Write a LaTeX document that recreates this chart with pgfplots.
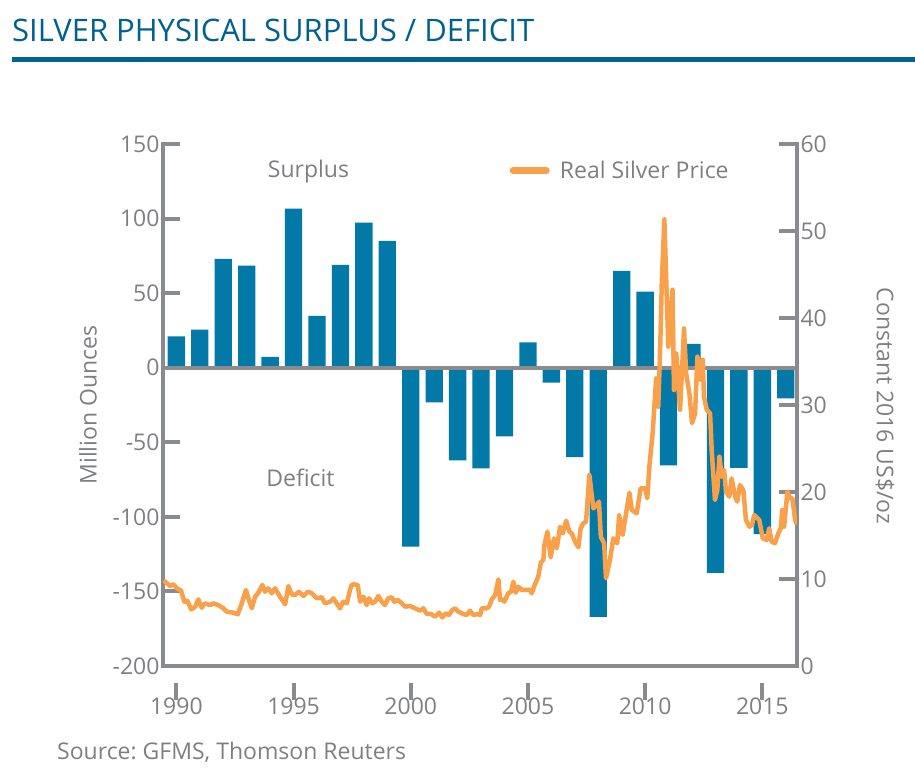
\documentclass[border=0pt]{standalone}
\usepackage{pgfplots}
\pgfplotsset{compat=1.18}
\usepackage{fontspec}
\setmainfont{Open Sans}
\frenchspacing
\definecolor{barblue}{HTML}{0379A7}
\definecolor{lineorange}{HTML}{F9A04A}
\definecolor{axisgray}{HTML}{8A8B8E}
\definecolor{labelgray}{HTML}{7E7F83}
\definecolor{titleblue}{HTML}{00618F}
\definecolor{ruleblue}{HTML}{006391}
\newcommand{\lbl}{\fontsize{23bp}{27bp}\selectfont}

\pgfplotstableread{
year value
1990 21
1991 25.5
1992 73
1993 68.4
1994 7.3
1995 106.6
1996 34.8
1997 69
1998 97.2
1999 85
2000 -120
2001 -23.2
2002 -62.1
2003 -67.5
2004 -46
2005 17
2006 -10
2007 -60
2008 -167
2009 65
2010 51
2011 -65.5
2012 16
2013 -137.6
2014 -67.2
2015 -111.5
2016 -20.6
}\balance

\pgfplotstableread{
t price
1989.45 9.8
1989.52 9.69
1989.73 9.2
1989.87 9.4
1990.02 8.93
1990.20 8.66
1990.34 7.39
1990.47 7.5
1990.63 6.5
1990.80 6.8
1990.94 7.66
1991.08 6.7
1991.22 7.2
1991.44 7.0
1991.58 7.2
1991.79 7.0
1992.01 6.63
1992.15 6.24
1992.43 6.13
1992.62 5.94
1992.79 7.2
1992.97 8.74
1993.07 7.78
1993.22 6.63
1993.36 7.97
1993.50 8.43
1993.67 9.31
1993.78 8.54
1993.92 8.93
1994.07 8.36
1994.21 8.93
1994.42 7.97
1994.64 7.09
1994.78 9.2
1994.92 8.24
1995.06 8.16
1995.23 8.54
1995.42 8.05
1995.61 8.54
1995.78 8.36
1995.99 7.78
1996.20 7.9
1996.34 7.2
1996.56 7.39
1996.70 7.78
1996.84 7.2
1996.98 6.63
1997.12 7.39
1997.27 7.2
1997.41 8.74
1997.48 9.31
1997.59 9.39
1997.74 9.31
1997.84 7.39
1997.98 7.97
1998.12 7.0
1998.22 7.78
1998.36 7.2
1998.48 7.39
1998.62 8.05
1998.76 7.39
1998.90 7.0
1999.04 7.78
1999.19 7.9
1999.30 7.39
1999.45 7.59
1999.62 7.2
1999.76 6.82
1999.97 6.9
2000.18 6.63
2000.40 6.36
2000.54 6.63
2000.68 5.98
2000.87 5.98
2001.04 5.67
2001.21 6.13
2001.35 5.59
2001.49 6.06
2001.63 5.86
2001.77 6.44
2001.89 6.63
2002.03 6.24
2002.24 5.98
2002.39 5.86
2002.53 6.36
2002.67 5.86
2002.86 5.98
2002.96 5.86
2003.03 6.63
2003.24 6.63
2003.34 6.82
2003.46 7.66
2003.60 8.16
2003.74 9.96
2003.81 7.59
2003.91 7.66
2003.99 7.39
2004.16 8.36
2004.28 8.54
2004.38 9.69
2004.48 8.43
2004.59 9.12
2004.74 8.74
2004.95 8.74
2005.09 8.74
2005.16 8.36
2005.30 9.4
2005.44 10.26
2005.55 11.9
2005.66 12.2
2005.70 13.9
2005.83 15.44
2005.97 12.49
2006.11 14.67
2006.23 13.52
2006.37 16.0
2006.49 15.25
2006.63 16.7
2006.77 15.44
2006.87 15.25
2007.01 14.29
2007.15 13.64
2007.25 15.82
2007.36 16.4
2007.48 16.59
2007.62 21.95
2007.79 18.12
2007.94 18.5
2008.03 18.89
2008.11 14.86
2008.25 14.1
2008.33 10.08
2008.50 12.18
2008.64 14.67
2008.81 14.1
2008.89 17.36
2009.04 15.06
2009.22 18.12
2009.33 19.92
2009.43 17.93
2009.64 17.55
2009.81 20.43
2010.00 20.43
2010.09 19.28
2010.18 22.91
2010.32 26.74
2010.47 33.07
2010.56 29.8
2010.64 36.32
2010.71 43.99
2010.82 51.34
2010.99 36.7
2011.17 43.25
2011.23 31.72
2011.33 35.92
2011.49 29.45
2011.66 38.8
2011.75 33.6
2011.89 31.3
2012.00 27.9
2012.13 29.0
2012.23 35.55
2012.34 32.9
2012.46 35.2
2012.51 30.95
2012.63 29.43
2012.77 29.05
2012.84 24.83
2012.98 19.08
2013.08 20.23
2013.17 24.06
2013.27 21.76
2013.37 22.53
2013.45 20.04
2013.59 19.46
2013.69 21.57
2013.84 19.46
2013.93 18.89
2014.05 20.8
2014.19 20.23
2014.30 16.78
2014.45 16.01
2014.56 16.21
2014.65 17.36
2014.87 16.78
2015.02 14.67
2015.19 14.48
2015.29 15.83
2015.40 14.29
2015.54 14.1
2015.68 15.25
2015.79 15.83
2015.85 17.93
2015.93 16.01
2016.07 20.04
2016.18 19.28
2016.28 19.28
2016.40 16.78
2016.47 16.3
}\price

\begin{document}
\begin{tikzpicture}[x=1bp,y=1bp]
\useasboundingbox (0,0) rectangle (915,778);
\node[anchor=base west, inner sep=0pt, text=titleblue, font=\fontsize{31bp}{36bp}\selectfont] at (12,736) {SILVER PHYSICAL SURPLUS / DEFICIT};
\fill[ruleblue] (12,716) rectangle (915,721);

\begin{axis}[
  at={(163bp,112bp)}, anchor=south west,
  scale only axis, width=634bp, height=522bp,
  xmin=1989.43, xmax=2016.48, ymin=-200, ymax=150,
  axis x line*=bottom, axis y line*=left,
  axis line style={-, line width=4bp, draw=axisgray, line cap=rect},
  tick align=inside, major tick length=17bp,
  major tick style={line width=4bp, draw=axisgray},
  xtick={1990,1995,2000,2005,2010,2015},
  xticklabels={1990,1995,2000,2005,2010,2015},
  xtick style={yshift=-17bp},
  xticklabel style={yshift=-11bp},
  ytick={-200,-150,-100,-50,0,50,100,150},
  yticklabels={-200,-150,-100,-50,0,50,100,150},
  ticklabel style={font=\lbl, text=labelgray},
  ybar, bar width=0.74,
]
\addplot[fill=barblue, draw=none] table[x=year, y=value] {\balance};
\draw[axisgray, line width=4bp] (axis cs:1989.43,0) -- (axis cs:2016.48,0);
\end{axis}

\begin{axis}[
  at={(163bp,112bp)}, anchor=south west,
  scale only axis, width=634bp, height=522bp,
  xmin=1989.43, xmax=2016.48, ymin=0, ymax=60,
  axis x line=none, axis y line*=right,
  axis line style={-, line width=4bp, draw=axisgray, line cap=rect},
  tick align=inside, major tick length=18bp,
  major tick style={line width=4bp, draw=axisgray},
  ytick={0,10,20,30,40,50,60},
  yticklabels={0,10,20,30,40,50,60},
  ticklabel style={font=\lbl, text=labelgray},
  legend style={at={(0.543,0.949)}, anchor=west, draw=none, fill=none,
    inner sep=0pt, font=\lbl, text=labelgray},
  legend image code/.code={\draw[#1, line width=7bp, line cap=round] (3.5bp,0bp) -- (36.5bp,0bp); \path (0bp,0bp) (46bp,0bp);},
]
\addplot[draw=lineorange, line width=4.5bp, line join=round] table[x=t, y=price] {\price};
\legend{Real Silver Price}
\end{axis}

\node[text=labelgray, font=\lbl] at (308.5,606) {Surplus};
\node[text=labelgray, font=\lbl] at (300.5,300) {Deficit};
\node[text=labelgray, font=\lbl, rotate=90] at (88,373) {Million Ounces};
\node[text=labelgray, font=\lbl, rotate=-90] at (885,372) {Constant 2016 US\$/oz};
\node[anchor=base west, inner sep=0pt, text=labelgray, font=\lbl] at (57,18) {Source: GFMS, Thomson Reuters};
\end{tikzpicture}
\end{document}
